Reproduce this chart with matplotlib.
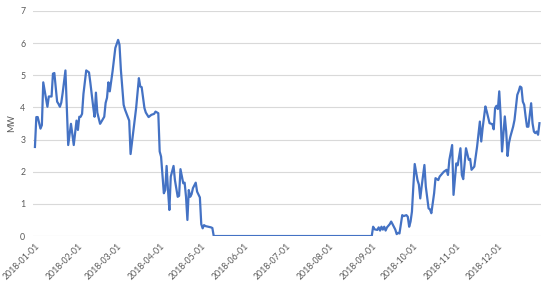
import matplotlib.pyplot as plt
import pandas as pd

# daily output in 2018 (day offset from 2018-01-01, MW)
days = [0, 1, 2, 4, 5, 6, 9, 10, 12, 13, 14, 16, 17, 18, 19, 20, 22, 24, 26, 28,
        30, 31, 32, 33, 34, 35, 37, 39, 40, 42, 43, 44, 45, 47, 48, 50, 51, 52, 53, 54,
        56, 58, 60, 61, 62, 64, 65, 68, 69, 72, 73, 75, 76, 77, 79, 80, 82, 84, 86, 87,
        89, 90, 91, 93, 94, 95, 96, 97, 98, 100, 101, 103, 104, 105, 107, 108, 109, 110, 111, 112,
        113, 114, 116, 117, 119, 120, 121, 122, 123, 125, 127, 128, 129, 243, 244, 245, 247, 248, 249, 250,
        251, 252, 253, 254, 256, 257, 258, 260, 261, 262, 263, 265, 266, 268, 269, 270, 271, 272, 273, 274,
        276, 277, 278, 279, 281, 282, 284, 285, 286, 288, 289, 291, 292, 295, 297, 298, 299, 301, 302, 304,
        305, 307, 308, 309, 311, 313, 314, 315, 317, 319, 321, 322, 323, 325, 326, 328, 330, 331, 332, 333,
        334, 335, 336, 337, 339, 340, 341, 342, 343, 345, 346, 348, 349, 350, 351, 352, 353, 354, 355, 356,
        358, 359, 360, 361, 362, 363, 364]
mw = [2.77, 3.7, 3.7, 3.34, 3.45, 4.78, 4.02, 4.34, 4.34, 5.05, 5.07, 4.18, 4.11, 4.02, 4.15, 4.45, 5.15, 2.83, 3.49, 2.83,
      3.59, 3.3, 3.71, 3.71, 3.8, 4.42, 5.15, 5.09, 4.76, 4.03, 3.71, 4.46, 3.84, 3.49, 3.56, 3.71, 4.14, 4.3, 4.78, 4.5,
      5.12, 5.85, 6.1, 5.95, 5.17, 4.08, 3.93, 3.59, 2.55, 3.61, 3.98, 4.91, 4.65, 4.63, 3.98, 3.84, 3.7, 3.77, 3.8, 3.87,
      3.82, 2.63, 2.47, 1.33, 1.43, 2.18, 1.43, 0.81, 1.85, 2.18, 1.74, 1.22, 1.25, 2.08, 1.64, 1.66, 1.22, 0.5, 1.43, 1.22,
      1.3, 1.49, 1.66, 1.38, 1.2, 0.37, 0.24, 0.34, 0.31, 0.29, 0.27, 0.25, 0.0, 0.0, 0.29, 0.21, 0.19, 0.27, 0.17, 0.29,
      0.2, 0.29, 0.17, 0.27, 0.37, 0.45, 0.37, 0.2, 0.06, 0.1, 0.08, 0.65, 0.62, 0.65, 0.6, 0.29, 0.45, 0.76, 1.54, 2.24,
      1.74, 1.6, 1.17, 1.54, 2.21, 1.54, 0.86, 0.83, 0.71, 1.33, 1.8, 1.74, 1.85, 2.0, 2.06, 1.9, 2.37, 2.83, 1.28, 2.26,
      2.2, 2.73, 1.9, 1.77, 2.73, 2.37, 2.4, 2.06, 2.16, 2.78, 3.56, 2.94, 3.36, 4.03, 3.87, 3.51, 3.48, 3.32, 3.98, 4.05,
      3.95, 4.5, 3.72, 2.63, 3.72, 3.25, 2.49, 2.89, 3.09, 3.4, 3.61, 4.39, 4.5, 4.65, 4.62, 4.18, 4.08, 3.72, 3.4, 3.4,
      4.13, 3.51, 3.25, 3.2, 3.25, 3.15, 3.51]

tick_labels = ['2018-01-01', '2018-02-01', '2018-03-01', '2018-04-01', '2018-05-01', '2018-06-01',
               '2018-07-01', '2018-08-01', '2018-09-01', '2018-10-01', '2018-11-01', '2018-12-01']
y_ticks = [0, 1, 2, 3, 4, 5, 6, 7]

start = pd.Timestamp('2018-01-01')
dates = start + pd.to_timedelta(days, unit='D')
tick_pos = pd.to_datetime(tick_labels)

plt.rcParams['font.family'] = ['Lato', 'DejaVu Sans']
fig = plt.figure(figsize=(5.5, 2.81), dpi=100)
ax = fig.add_axes([0.06, 0.16, 0.9236, 0.801])

ax.plot(dates, mw, color='#4472C4', linewidth=1.6, zorder=3)

ax.set_ylim(0, 7)
ax.set_yticks(y_ticks)
ax.set_xlim(start - pd.Timedelta(days=1.4), start + pd.Timedelta(days=365.1))
ax.set_xticks(tick_pos)
ax.set_xticklabels(tick_labels, rotation=45, ha='right', rotation_mode='anchor')

ax.grid(axis='y', color='#d9d9d9', linewidth=0.8)
ax.set_axisbelow(True)
for s in ax.spines.values():
    s.set_visible(False)
ax.tick_params(axis='both', length=0, labelsize=6.3, labelcolor='#595959')
ax.tick_params(axis='x', pad=4)
ax.tick_params(axis='y', pad=5.5)
ax.set_ylabel('MW', fontsize=6.5, color='#595959')
ax.yaxis.set_label_coords(-0.034, 0.5)

plt.savefig('out.png', dpi=100)
